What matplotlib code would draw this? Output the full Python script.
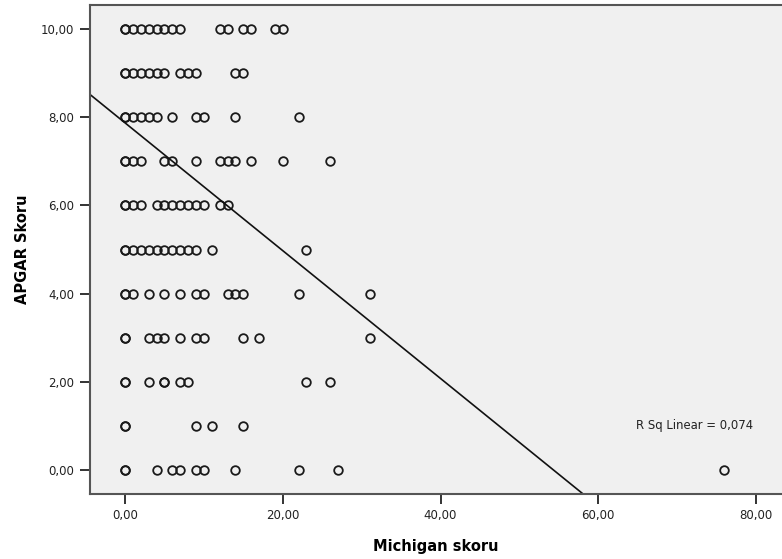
import matplotlib
matplotlib.use("Agg")
import matplotlib.pyplot as plt
import numpy as np

plt.rcParams['font.family'] = ['DejaVu Sans']

# Data: (Michigan skoru values) per APGAR score
rows = {
    10: [0, 0, 1, 2, 3, 4, 5, 6, 7, 12, 13, 15, 16, 19, 20],
    9: [0, 0, 1, 2, 3, 4, 5, 7, 8, 9, 14, 15],
    8: [0, 0, 1, 2, 3, 4, 6, 9, 10, 14, 22],
    7: [0, 0, 1, 2, 5, 6, 9, 12, 13, 14, 16, 20, 26],
    6: [0, 0, 1, 2, 4, 5, 6, 7, 8, 9, 10, 12, 13],
    5: [0, 0, 1, 2, 3, 4, 5, 6, 7, 8, 9, 11, 23],
    4: [0, 0, 1, 3, 5, 7, 9, 10, 13, 14, 15, 22, 31],
    3: [0, 0, 3, 4, 5, 7, 9, 10, 15, 17, 31],
    2: [0, 0, 3, 5, 5, 7, 8, 23, 26],
    1: [0, 0, 9, 11, 15],
    0: [0, 0, 4, 6, 7, 9, 10, 14, 22, 27, 76],
}
michigan = []
apgar = []
for yv, xs in rows.items():
    for xv in xs:
        michigan.append(xv)
        apgar.append(yv)
michigan = np.array(michigan, dtype=float)
apgar = np.array(apgar, dtype=float)

# Fit line
fit_intercept = 7.87
fit_slope = -0.1448
r_sq_text = "R Sq Linear = 0,074"

x_ticks = [0, 20, 40, 60, 80]
y_ticks = [0, 2, 4, 6, 8, 10]

fig = plt.figure(figsize=(7.82, 5.59), dpi=100)
ax = fig.add_axes([0.1145, 0.1163, 0.8855, 0.8747])
ax.set_facecolor('#f0f0f0')

xlim = (-4.5, 83.3)
ylim = (-0.54, 10.54)

ax.plot(michigan, apgar, linestyle='none', marker='o', markersize=6.2,
        markerfacecolor='none', markeredgecolor='#1a1a1a', markeredgewidth=1.3)

xl = np.array(xlim)
ax.plot(xl, fit_intercept + fit_slope * xl, color='#111111', linewidth=1.2)

ax.text(636, 559 - 426, r_sq_text, transform=None, fontsize=8.4, color='#222222',
        ha='left', va='center')

ax.set_xlim(*xlim)
ax.set_ylim(*ylim)
ax.set_xticks(x_ticks)
ax.set_yticks(y_ticks)
ax.set_xticklabels([f"{v:.2f}".replace('.', ',') for v in x_ticks])
ax.set_yticklabels([f"{v:.2f}".replace('.', ',') for v in y_ticks])

ax.spines['right'].set_visible(False)
for s in ['left', 'bottom', 'top']:
    ax.spines[s].set_color('#555555')
    ax.spines[s].set_linewidth(1.5)

ax.tick_params(axis='both', direction='out', length=7, width=1.4,
               color='#333333', labelsize=8.5, labelcolor='#222222', pad=4)

ax.set_xlabel('Michigan skoru', fontsize=10.5, fontweight='bold', labelpad=12)
ax.set_ylabel('APGAR Skoru', fontsize=10.5, fontweight='bold', labelpad=8)

fig.savefig('out.png', dpi=100, facecolor='white')
